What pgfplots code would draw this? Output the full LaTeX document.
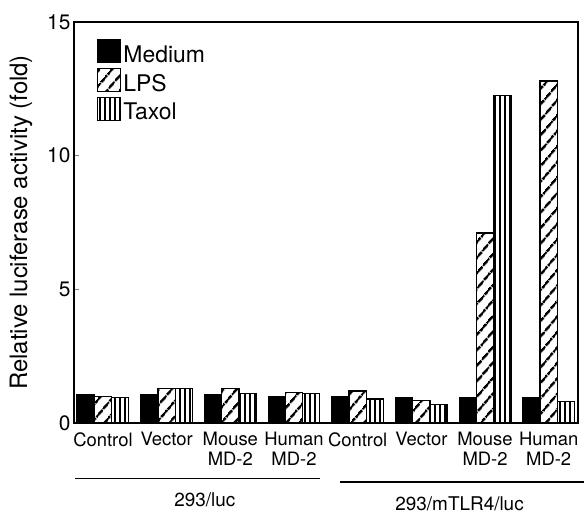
\documentclass[border=0pt]{standalone}
\usepackage{pgfplots}
\pgfplotsset{compat=1.18}
\usepackage{fontspec}
\setmainfont{TeX Gyre Heros}
\usetikzlibrary{patterns.meta}
\begin{document}
\begin{tikzpicture}
\useasboundingbox (-74bp,-90bp) rectangle (510bp,423bp);
\begin{axis}[
 anchor=south west, at={(0,0)},
 scale only axis, width=504bp, height=401bp,
 xmin=-0.455, xmax=7.46, ymin=0, ymax=15,
 ybar=0pt, bar width=0.27,
 ytick={0,5,10,15}, xtick={0,...,7},
 ytick pos=left,
 xticklabels={Control,Vector,{Mouse\\MD-2},{Human\\MD-2},Control,Vector,{Mouse\\MD-2},{Human\\MD-2}},
 xticklabel style={align=center, font=\fontsize{18.5}{19.5}\selectfont, yshift=-6bp},
 x tick style={draw=none},
 yticklabel style={font=\fontsize{21}{22}\selectfont},
 tick align=inside, major tick length=5bp,
 ytick style={line width=1.2pt},
 ylabel={Relative luciferase activity (fold)},
 ylabel style={font=\fontsize{24}{26}\selectfont, at={(rel axis cs:0,0.5)}, anchor=center, yshift=53bp},
 axis line style={line width=1.5pt},
 /pgf/number format/assume math mode=true,
 clip=false,
 legend style={at={(rel axis cs:0.0456,0.958)}, anchor=north west, draw=none, fill=none, font=\fontsize{23}{25}\selectfont, row sep=2bp, inner sep=0pt},
 legend cell align=left,
 legend image code/.code={\draw[#1,line width=1.3pt] (0bp,-8bp) rectangle (23bp,15bp);},
]
\addplot[draw=black, line width=1.4pt, fill=black] coordinates {(0,1.05) (1,1.05) (2,1.05) (3,1.0) (4,1.0) (5,0.95) (6,0.95) (7,0.95)};
\addplot[draw=black, line width=1.4pt, fill=white, postaction={pattern={Lines[angle=50, distance=10bp, line width=2.6bp]}}] coordinates {(0,1.0) (1,1.3) (2,1.3) (3,1.15) (4,1.2) (5,0.85) (6,7.1) (7,12.8)};
\addplot[draw=black, line width=1.4pt, fill=white, postaction={pattern={Lines[angle=90, distance=5bp, line width=2.6bp]}}] coordinates {(0,0.95) (1,1.3) (2,1.1) (3,1.1) (4,0.9) (5,0.7) (6,12.25) (7,0.8)};
\legend{Medium,LPS,Taxol}
\draw[line width=2.6pt] (rel axis cs:0,0) -- (rel axis cs:0,1);
\draw[line width=2.2pt] (rel axis cs:0,0) -- (rel axis cs:1,0);
\draw[line width=1.2pt] (axis cs:-0.44,-2.09) -- (axis cs:3.41,-2.09);
\draw[line width=1.2pt] (axis cs:3.72,-2.21) -- (axis cs:7.55,-2.21);
\node[font=\fontsize{19}{20}\selectfont] at (axis cs:1.6,-2.88) {293/luc};
\node[font=\fontsize{19}{20}\selectfont] at (axis cs:5.6,-3.02) {293/mTLR4/luc};
\end{axis}
\end{tikzpicture}
\end{document}
